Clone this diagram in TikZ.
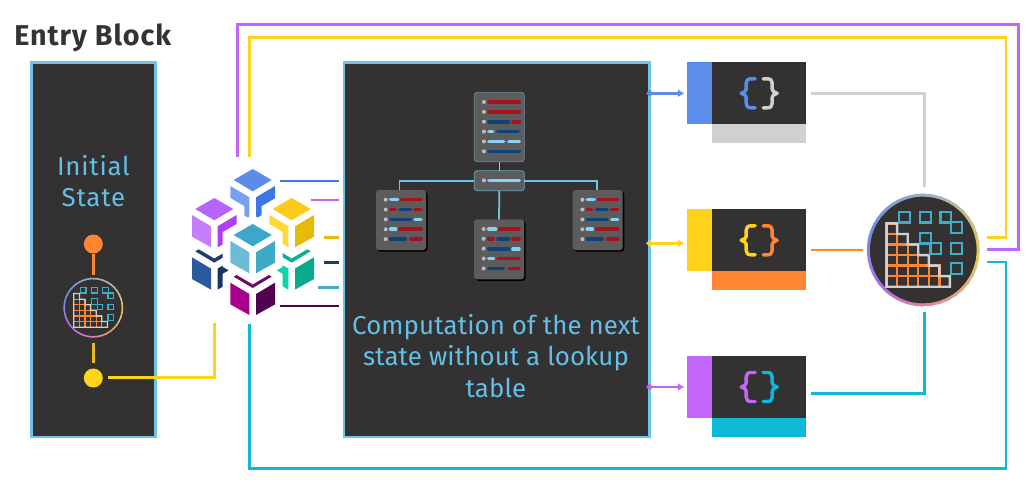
\documentclass[tikz,border=0pt]{standalone}
\usepackage{fontspec}
\setmainfont{Fira Sans}
\usetikzlibrary{
        arrows.meta,
        shadows
    }
\definecolor{panelbg}{HTML}{333132}
\definecolor{panelsky}{HTML}{6CC5E9}
\definecolor{textsky}{HTML}{62C0E6}
\definecolor{titlegray}{HTML}{333333}
\definecolor{srvgray}{HTML}{5C5C5C}
\definecolor{barred}{HTML}{A8101E}
\definecolor{barnavy}{HTML}{0D4379}
\definecolor{barsky}{HTML}{84D4F7}
\definecolor{rowdot}{HTML}{BDBDBD}
\definecolor{cblue}{HTML}{5B8DEB}
\definecolor{cpurple}{HTML}{C266F9}
\definecolor{cyellow}{HTML}{FFD31A}
\definecolor{corange}{HTML}{FF8533}
\definecolor{ccyan}{HTML}{0DB9D7}
\definecolor{cgray}{HTML}{D0D0D0}
\definecolor{cteal}{HTML}{3AAFCB}
\definecolor{ringyel}{HTML}{E3C75C}
\definecolor{ringpink}{HTML}{DB82A6}
\definecolor{ringpur}{HTML}{B36CEB}
\definecolor{ringblu}{HTML}{6C90E2}
\definecolor{ringtop}{HTML}{9DB0C4}

% one cube of the stack: centre of top face, then the three face colours
\newcommand{\stackcube}[5]{
\definecolor{cubetop}{HTML}{#3}
\definecolor{cubeleft}{HTML}{#4}
\definecolor{cuberight}{HTML}{#5}
\begin{scope}[shift={(#1,#2)}]
\fill[white] (0,-20.3) -- (30,-2.8) -- (30,31.8) -- (0,49.3) -- (-30,31.8) -- (-30,-2.8) -- cycle;
\fill[cubetop] (0,-11) -- (19,0) -- (0,11.3) -- (-19,0) -- cycle;
\fill[cubeleft] (-22.3,6) -- (-3.3,17.3) -- (-3.3,38.3) -- (-22.3,27.7) -- cycle;
\fill[cuberight] (22.3,6) -- (3.3,17.3) -- (3.3,38.3) -- (22.3,27.7) -- cycle;
\end{scope}
}

% text lines of a server card, units are a third of a pixel
\newcommand{\serverrows}[3]{
\begin{scope}[shift={(#1,#2)},x=.25pt,y=-.25pt]
\foreach \row [count=\n] in {#3}{
\pgfmathsetmacro{\rowy}{29+29.6*(\n-1)}
\fill[rowdot] (29,\rowy) circle [radius=6];
\foreach \a/\b/\c in \row {\draw[\c, line width=2.7pt, line cap=round] ({\a+5},\rowy) -- ({\b-5},\rowy);}
}
\end{scope}
}

% round matrix badge: centre x, y and scale
\newcommand{\matrixbadge}[3]{
\begin{scope}[shift={(#1,#2)},scale=#3]
\fill[panelbg] (0,0) circle [radius=55];
\foreach \s/\sn/\ca/\cb in {0/90/ringyel/ringpink,90/45/ringpink/ringpur,135/65/ringpur/ringblu,200/70/ringblu/ringtop,270/90/ringtop/ringyel}{
\foreach \t in {0,.1,...,.95}{
\pgfmathtruncatemacro{\p}{100*\t}
\draw[line width=#3*2.2pt, \cb!\p!\ca] (\s+\t*\sn:55) -- (\s+\t*\sn+.12*\sn:55);
}
}
\foreach \i in {0,...,5}{
\foreach \r in {\i,...,5}{
\draw[corange, line width=#3*1.8pt] (-36.7+\i*10.55,-26.6+\r*10.55) rectangle ++(10.55,10.55);
}
}
\draw[cgray, line width=#3*1.8pt] (-36.7,-26.6) -- ++(10.55,0) -- ++(0,10.55) -- ++(10.55,0) -- ++(0,10.55) -- ++(10.55,0) -- ++(0,10.55) -- ++(10.55,0) -- ++(0,10.55) -- ++(10.55,0) -- ++(0,10.55) -- ++(10.55,0) -- ++(0,10.55) -- (-36.7,36.7) -- cycle;
\foreach \x/\y in {-24.3/-38.3,-3.3/-38.3,17.3/-38.3,27.7/-27.7,-3.3/-17.3,7.3/-6.7,27.7/-6.7,27.7/13.3}{
\draw[cteal, line width=#3*1.7pt] (\x,\y) rectangle ++(10.7,10.7);
}
\end{scope}
}

% curly pair of a code block
\newcommand{\curlypair}[4]{
\begin{scope}[shift={(#1,#2)}]
\foreach \sx/\cc in {1/#3,-1/#4}{
\draw[\cc, xscale=\sx, line width=2.6pt, line cap=round, line join=round] (-4,-14.5) -- (-8,-14.5) .. controls (-11.5,-14.5) and (-13,-13) .. (-13,-10) -- (-13,-4) .. controls (-13,-2) and (-15,-1) .. (-18,0) .. controls (-15,1) and (-13,2) .. (-13,4) -- (-13,10) .. controls (-13,13) and (-11.5,14.5) .. (-8,14.5) -- (-4,14.5);
}
\end{scope}
}

\begin{document}
\begin{tikzpicture}
[x=.75pt,y=-.75pt,
pxsize/.style 2 args={minimum width=#1*.75pt, minimum height=#2*.75pt, inner sep=0pt, outer sep=0pt},
panel/.style={rectangle, fill=panelbg, draw=panelsky, line width=2pt, text=textsky, align=center},
srvcard/.style={rectangle, fill=srvgray, rounded corners=2.2pt},
srvshadow/.style={srvcard, drop shadow={shadow xshift=1.2pt, shadow yshift=-1.2pt, opacity=1, fill=black}},
srvlink/.style={panelsky, line width=1.3pt},
solidbox/.style={rectangle},
dot/.style={circle, pxsize={19}{19}},
conn/.style={line width=2.2pt},
stub/.style={line width=1.9pt},
arrow/.style={line width=1.9pt, {Circle[length=4.5pt]}-{Latex[length=5pt,width=6pt]}},
]
\useasboundingbox (0,0) rectangle (1031,500);

\node (title) [anchor=base west, inner sep=0pt, text=titlegray, font=\fontsize{21.5}{24}\selectfont\bfseries\addfontfeature{LetterSpace=3.5}] at (14,45) {Entry Block};

\node (entry) [panel, pxsize={124.2}{374.3}] at (93.4,249.9) {};
\node (main) [panel, pxsize={305.5}{374.3}] at (496.8,249.9) {};

\node (inittext) [text=textsky, align=center, inner sep=0pt, font=\fontsize{19.4}{23.3}\selectfont\addfontfeature{LetterSpace=3}] at (93.4,181) {Initial\\State};
\node (maintext) [text=textsky, align=center, inner sep=0pt, font=\fontsize{19.4}{23.3}\selectfont\addfontfeature{LetterSpace=.4}] at (496,356) {Computation of the next\\state without a lookup\\table};

% entry block column
\node (orangedot) [dot, fill=corange] at (93.3,244) {};
\node (yellowdot) [dot, fill=cyellow] at (93.3,378) {};
\matrixbadge{93.3}{307.7}{.53}
\coordinate (badgetop) at (93.3,275);
\coordinate (badgebot) at (93.3,343);
\coordinate (lowstart) at (93.3,363);
\draw [conn, corange] (orangedot) -- (badgetop);
\draw [conn, cyellow!90!black] (badgebot) -- (lowstart);

% stack of cubes
\stackcube{252.7}{180}{5B8DE8}{78A0EE}{3B78E7}
\stackcube{214.3}{251.3}{1E3A6E}{2B5A9E}{1A3360}
\stackcube{291.7}{251.3}{0CB08F}{06D6A8}{0AA98C}
\stackcube{214.3}{209}{B865F7}{C67FFC}{B13DFA}
\stackcube{291.7}{209}{FCCB1A}{FFD93B}{E6BB08}
\stackcube{252.7}{276.7}{6B0A5E}{A8008C}{520050}
\stackcube{252.7}{235}{3BA8C9}{6BBCD6}{3FA9C8}

\foreach \c/\xs/\yy/\col in {a/280/181/3D78DC,b/311/200/BF5FEA,c/324/237.3/E6BB08,d/324/262.3/1E3A6E,e/318/287.3/45ABC8,f/280/306/520050}{
\definecolor{stubcol}{HTML}{\col}
\coordinate (stubfrom\c) at (\xs,\yy);
\coordinate (stubto\c) at (338.7,\yy);
\draw [stub, stubcol] (stubfrom\c) -- (stubto\c);
}

% server tree
\node (srvtop) [srvcard, draw=panelsky!45!srvgray, line width=.6pt, pxsize={50}{69.4}, anchor=north west] at (474.3,92.3) {};
\node (srvmid) [srvcard, draw=panelsky!70!srvgray, line width=.6pt, pxsize={50}{20}, anchor=north west] at (474.3,170.7) {};
\node (srvleft) [srvshadow, pxsize={50}{60}, anchor=north west] at (376,190) {};
\node (srvdown) [srvshadow, pxsize={50}{60}, anchor=north west] at (474,219.3) {};
\node (srvright) [srvshadow, pxsize={50}{60}, anchor=north west] at (572.7,190) {};

\draw [rowdot, line width=1.1pt] (srvtop) -- (srvmid);
\draw [srvlink] (srvmid.west) -| ([xshift=-1.2pt]srvleft.north);
\draw [srvlink] (srvmid.east) -| ([xshift=-.4pt]srvright.north);
\draw [srvlink] (srvmid.south) -- (srvdown.north);

\serverrows{474.3}{92.3}{{39/140/barred},{39/140/barred},{39/107/barnavy,111/140/barred},{39/60/barsky,65/137/barnavy},{39/93/barsky,99/140/barsky},{39/140/barnavy}}
\serverrows{474.3}{170.7}{{39/140/barsky}}
\serverrows{376}{190}{{39/70/barsky,72/140/barred},{39/62/barred,67/109/barnavy,112/140/barred},{39/109/barnavy,112/140/barsky},{39/64/barsky,67/140/barred},{39/93/barnavy,100/140/barred}}
\serverrows{474}{219.3}{{39/70/barsky,72/140/barred},{39/62/barred,67/109/barnavy,112/140/barred},{39/109/barnavy,112/140/barsky},{39/64/barsky,67/140/barred},{39/93/barnavy,100/140/barred}}
\serverrows{572.7}{190}{{39/70/barsky,72/140/barred},{39/62/barred,67/109/barnavy,112/140/barred},{39/109/barnavy,112/140/barsky},{39/64/barsky,67/140/barred},{39/93/barnavy,100/140/barred}}

% code blocks
\foreach \b/\yt/\side/\foot/\ca/\cb in {one/62.3/cblue/cgray/cblue/cgray,two/209.3/cyellow/corange/cyellow/corange,three/356/cpurple/ccyan/cpurple/ccyan}{
\node (side\b) [solidbox, fill=\side, pxsize={25}{62}, anchor=north west] at (687.3,\yt) {};
\node (code\b) [solidbox, fill=panelbg, pxsize={93.7}{62}, anchor=north west] at (712.3,\yt) {};
\node (foot\b) [solidbox, fill=\foot, pxsize={93.7}{19}, anchor=north west] at (712.3,\yt+62) {};
\curlypair{759.2}{\yt+31}{\ca}{\cb}
}

\coordinate (arrowfroma) at (646.7,93.3);
\coordinate (arrowtoa) at (684.5,93.3);
\coordinate (arrowfromb) at (646.7,243.3);
\coordinate (arrowtob) at (684.5,243.3);
\coordinate (arrowfromc) at (646.7,387);
\coordinate (arrowtoc) at (684.5,387);
\draw [arrow, cblue] (arrowfroma) -- (arrowtoa);
\draw [arrow, cyellow] (arrowfromb) -- (arrowtob);
\draw [arrow, cpurple] (arrowfromc) -- (arrowtoc);

% big badge and what runs to it
\matrixbadge{923.3}{250}{1}

\coordinate (greyfrom) at (811,93.3);
\coordinate (greyto) at (924.7,186.7);
\coordinate (orangefrom) at (811,250);
\coordinate (orangeto) at (862.7,250);
\coordinate (cyanfrom) at (811,393.3);
\coordinate (cyanto) at (924.7,311.7);
\draw [conn, cgray] (greyfrom) -| (greyto);
\draw [conn, corange] (orangefrom) -- (orangeto);
\draw [conn, ccyan] (cyanfrom) -| (cyanto);

% long loops back to the cubes
\coordinate (yellowout) at (986.7,237.3);
\coordinate (yellowcorner) at (1006,37.5);
\coordinate (yellowin) at (249.5,156.7);
\coordinate (purpleout) at (986.7,249.7);
\coordinate (purplecorner) at (1018.7,24.5);
\coordinate (purplein) at (237.3,156.7);
\coordinate (cyanout) at (986.7,262);
\coordinate (cyancorner) at (1006,468.3);
\coordinate (cyanin) at (249.5,324);
\coordinate (dotout) at (107.7,377.7);
\coordinate (dotin) at (214.7,323.3);
\draw [conn, cyellow] (yellowout) -| (yellowcorner) -| (yellowin);
\draw [conn, cpurple] (purpleout) -| (purplecorner) -| (purplein);
\draw [conn, ccyan] (cyanout) -| (cyancorner) -| (cyanin);
\draw [conn, cyellow] (dotout) -| (dotin);
\end{tikzpicture}
\end{document}
